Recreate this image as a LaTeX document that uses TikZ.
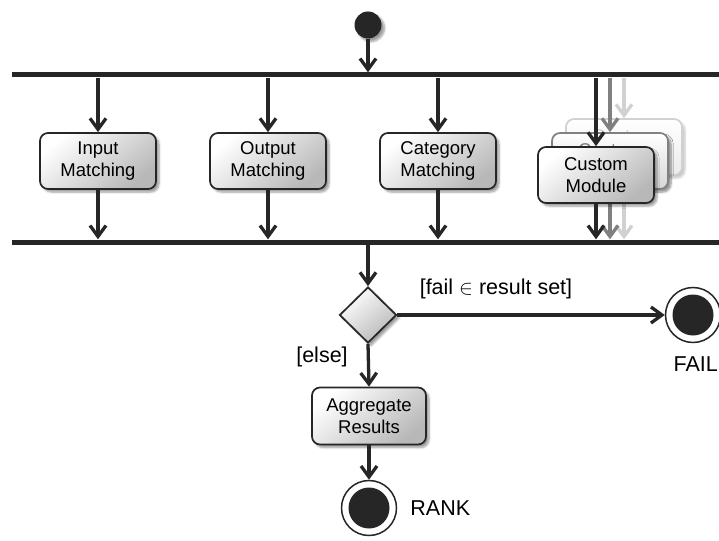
\documentclass[tikz,border=0pt]{standalone}
\usepackage{fontspec}
\setmainfont{Liberation Sans}
\usetikzlibrary{arrows.meta}
\usetikzlibrary{shapes.geometric}
\usetikzlibrary{shadows.blur}
\usetikzlibrary{positioning}
\tikzset{
    tnode/.style = {align=center, inner sep=0pt, text centered, font=\fontsize{18.5}{22.5}\selectfont},
    lbl_node/.style = {tnode, font=\fontsize{21.5}{24}\selectfont},
    soft/.style = {blur shadow={shadow xshift=3pt, shadow yshift=-3pt, shadow opacity=40, shadow blur steps=6}},
    act_node/.style = {tnode, rectangle, rounded corners=8pt, draw=black!85, line width=1.7pt, minimum width=116pt, minimum height=56pt, top color=white, bottom color=black!28, shading angle=40, soft},
    ghost_node/.style = {act_node, draw=black!#1, text=black!#1},
    dec_node/.style = {diamond, draw=black!85, line width=1.7pt, minimum width=57pt, minimum height=56pt, inner sep=0pt, top color=white, bottom color=black!28, shading angle=40, soft},
    init_node/.style = {circle, fill=black!85, minimum size=27pt, inner sep=0pt, soft},
    final_node/.style = {circle, draw=black!85, line width=1.5pt, fill=white, minimum size=55pt, inner sep=0pt,
        path picture={\fill[black!85] (path picture bounding box.center) circle (20.5pt);}},
    bar_node/.style = {rectangle, fill=black!85, inner sep=0pt, minimum height=5pt, minimum width=712pt},
    flow/.style = {line width=3.3pt, draw=black!85, -{Straight Barb[length=11pt,width=16pt]}}
}
\begin{document}
\begin{tikzpicture}[x=1pt, y=-1pt]
    \useasboundingbox (0,0) rectangle (719,540);
    \node [init_node] (start) at (368,25) {};
    \node [bar_node] (fork) at (368,75) {};
    \node [bar_node] (join) at (368,242) {};
    \draw [flow] (start) -- (start |- fork.north);
    % matching modules
    \node [act_node] (inMatch) at (98,161) {Input\\Matching};
    \node [act_node] (outMatch) at (268,161) {Output\\Matching};
    \node [act_node] (catMatch) at (438,161) {Category\\Matching};
    \foreach \n in {inMatch,outMatch,catMatch} {
        \draw [flow] (\n |- fork.south) -- (\n.north);
        \draw [flow] (\n.south) -- (\n |- join.north);
    }
    % stacked custom modules
    \node [ghost_node=18, bottom color=black!8, blur shadow={shadow xshift=3pt, shadow yshift=-3pt, shadow opacity=12}] (custC) at (624,147) {Custom\\Module};
    \draw [flow, draw=black!18] (custC |- fork.south) -- (custC.north);
    \draw [flow, draw=black!18] (custC.south) -- (custC |- join.north);
    \node [ghost_node=50, bottom color=black!16, blur shadow={shadow xshift=3pt, shadow yshift=-3pt, shadow opacity=25}] (custB) at (610,161) {Custom\\Module};
    \draw [flow, draw=black!50] (custB |- fork.south) -- (custB.north);
    \draw [flow, draw=black!50] (custB.south) -- (custB |- join.north);
    \node [act_node] (custA) at (596,175) {Custom\\Module};
    \draw [flow] (custA |- fork.south) -- (custA.north);
    \draw [flow] (custA.south) -- (custA |- join.north);
    % decision and results
    \node [dec_node] (decide) at (368,315) {};
    \node [final_node] (failEnd) at (693,315) {};
    \node [act_node, minimum width=114pt, minimum height=57pt] (aggr) at (369,416) {Aggregate\\Results};
    \node [final_node] (rankEnd) at (369,508) {};
    \draw [flow] (decide |- join.south) -- (decide.north);
    \draw [flow] (decide.east) -- (failEnd.west);
    \draw [flow] (decide.south) -- (aggr.north);
    \draw [flow] (aggr.south) -- (rankEnd.north);
    \node [lbl_node] (failCond) at (496,289) {[fail $\in$ result set]};
    \node [lbl_node] (elseCond) at (322,357) {[else]};
    \node [lbl_node, anchor=east] (failTxt) at (718,364) {FAIL};
    \node [lbl_node, right=13pt of rankEnd] (rankTxt) {RANK};
\end{tikzpicture}
\end{document}
